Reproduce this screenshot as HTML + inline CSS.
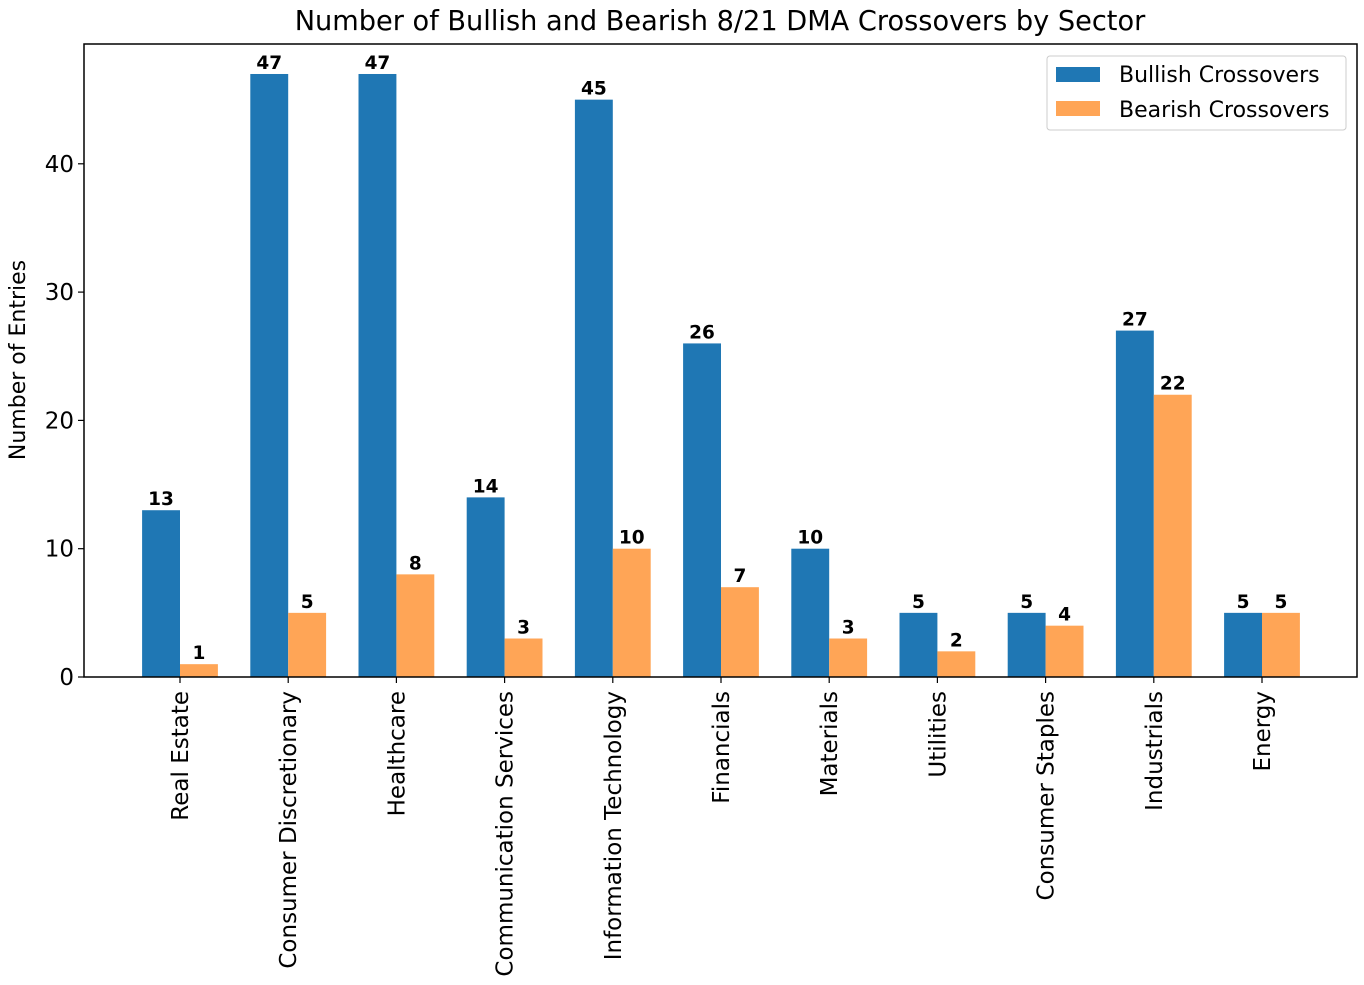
<!DOCTYPE html>
<html><head><meta charset="utf-8"><style>
body{margin:0;background:#fff;}
svg text{font-family:"DejaVu Sans","Liberation Sans",sans-serif;fill:#000;}
</style></head><body>
<svg id="chart" width="1364" height="980" viewBox="0 0 1364 980" xmlns="http://www.w3.org/2000/svg">
<text x="720" y="30" font-size="27.2" text-anchor="middle">Number of Bullish and Bearish 8/21 DMA Crossovers by Sector</text>
<text transform="translate(25,360) rotate(-90)" font-size="22" text-anchor="middle">Number of Entries</text>
<g id="bars"></g>
<g id="axes"></g>
<g>
<rect x="1047" y="56" width="299" height="74" fill="#fff" stroke="#ccc" stroke-width="1" rx="3"/>
<rect x="1056" y="67" width="44" height="15" fill="#1f77b4"/>
<text x="1119" y="82" font-size="22">Bullish Crossovers</text>
<rect x="1056" y="101" width="44" height="15" fill="#ffa556"/>
<text x="1119" y="117" font-size="22">Bearish Crossovers</text>
</g>
</svg>
<script>
const categories=["Real Estate","Consumer Discretionary","Healthcare","Communication Services","Information Technology","Financials","Materials","Utilities","Consumer Staples","Industrials","Energy"];
const bullish=[13,47,47,14,45,26,10,5,5,27,5];
const bearish=[1,5,8,3,10,7,3,2,4,22,5];
const yTicks=[0,10,20,30,40];
const NS="http://www.w3.org/2000/svg";
const L=84,R=1357,T=44,B=677;
const y=v=>B-v*12.83;
const x=i=>180+i*108.2;
const bw=37.9;
const bars=document.getElementById('bars'),axes=document.getElementById('axes');
function mk(tag,attrs,parent,txt){const e=document.createElementNS(NS,tag);for(const k in attrs)e.setAttribute(k,attrs[k]);if(txt!==undefined)e.textContent=txt;parent.appendChild(e);return e;}
categories.forEach((c,i)=>{
  [[bullish,-bw,'#1f77b4','bullish'],[bearish,0,'#ffa556','bearish']].forEach(([arr,off,col,nm])=>{
    const v=arr[i];
    const r=mk('rect',{x:x(i)+off,y:y(v),width:bw,height:B-y(v),fill:col},bars);
    
    
    const t=mk('text',{x:x(i)+off+bw/2,y:y(v)-5,'font-size':18.5,'font-weight':'bold','text-anchor':'middle'},bars,String(v));
    
    
  });
  const tk=mk('line',{x1:x(i),x2:x(i),y1:B,y2:B+6,stroke:'#000','stroke-width':1.2},axes);
  
  
  const lb=mk('text',{transform:`translate(${x(i)+8},${B+14}) rotate(-90)`,'font-size':23,'text-anchor':'end'},axes,c);
  
  
});
yTicks.forEach(v=>{
  const tk=mk('line',{x1:L-6,x2:L,y1:y(v),y2:y(v),stroke:'#000','stroke-width':1.2},axes);
  
  
  const lb=mk('text',{x:L-10,y:y(v)+8,'font-size':23,'text-anchor':'end'},axes,String(v));
  
  
});
const fr=mk('rect',{x:L,y:T,width:R-L,height:B-T,fill:'none',stroke:'#000','stroke-width':1.5},axes);


</script>
</body></html>
